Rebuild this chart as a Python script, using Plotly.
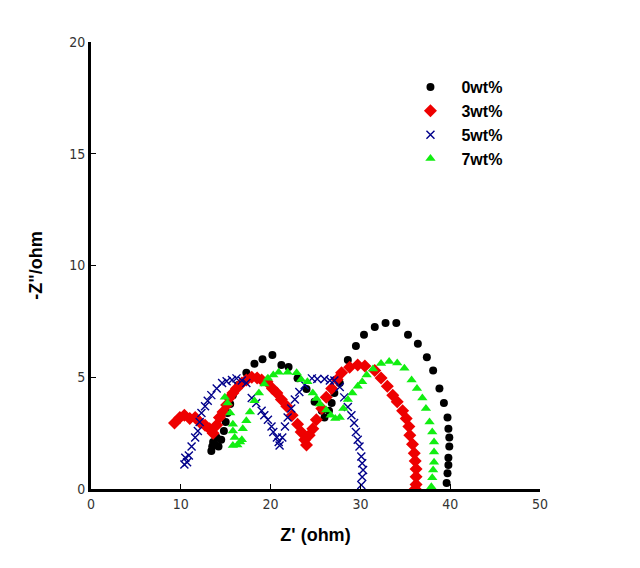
import plotly.graph_objects as go

# Nyquist data
x_0wt = [13.4, 13.5, 13.6, 13.8, 14.0, 14.2, 14.5, 14.8, 15.0, 15.2, 15.5, 15.8, 16.4, 17.3,
         18.2, 19.1, 20.2, 21.2, 22.0, 23.0, 24.0, 24.9, 25.7, 26.0, 26.5, 26.8, 27.1, 27.7,
         28.6, 29.5, 30.4, 31.6, 32.8, 34.0, 35.3, 36.4, 37.4, 38.1, 38.8, 39.3, 39.7, 39.8,
         39.9, 39.9, 39.8, 39.8, 39.7, 39.6]
y_0wt = [1.7, 1.9, 2.1, 2.0, 2.3, 1.9, 2.2, 2.6, 3.0, 3.4, 3.8, 4.2, 4.65, 5.2,
         5.6, 5.8, 6.0, 5.55, 5.46, 4.96, 4.47, 3.9, 3.5, 3.2, 3.5, 3.85, 4.3, 4.74,
         5.77, 6.4, 6.9, 7.25, 7.43, 7.43, 6.9, 6.5, 5.9, 5.3, 4.5, 3.85, 3.2, 2.7,
         2.3, 1.9, 1.4, 1.07, 0.7, 0.27]

x_3wt = [9.3, 9.9, 10.4, 11.0, 11.6, 12.1, 12.7, 13.2, 13.6, 14.0, 14.3, 14.7, 15.1, 15.4,
         15.8, 16.2, 16.8, 17.3, 17.9, 18.5, 19.0, 19.6, 20.2, 20.7, 21.2, 21.8, 22.4, 23.0,
         23.4, 23.8, 24.0, 24.3, 24.7, 25.1, 25.7, 26.2, 26.8, 27.4, 27.9, 28.8, 29.7, 30.5,
         31.6, 32.3, 33.0, 33.6, 34.1, 34.7, 35.1, 35.4, 35.5, 35.8, 36.0, 36.1, 36.2, 36.2,
         36.2, 36.1]
y_3wt = [2.95, 3.2, 3.3, 3.15, 3.2, 3.0, 2.85, 2.7, 2.5, 2.86, 3.2, 3.45, 3.76, 4.07,
         4.3, 4.5, 4.74, 4.88, 5.0, 4.97, 4.88, 4.8, 4.5, 4.3, 4.0, 3.7, 3.3, 2.9,
         2.55, 2.2, 1.97, 2.4, 2.7, 3.1, 3.6, 4.1, 4.5, 4.9, 5.2, 5.45, 5.55, 5.5,
         5.3, 4.97, 4.6, 4.2, 3.9, 3.5, 3.15, 2.8, 2.4, 2.0, 1.6, 1.25, 0.9, 0.55,
         0.2, 0.0]

x_5wt = [10.4, 10.5, 10.7, 10.9, 11.2, 11.6, 11.9, 12.1, 12.3, 12.7, 13.0, 13.4, 14.0, 14.6,
         15.1, 15.7, 16.2, 16.8, 17.3, 17.9, 18.4, 19.0, 19.3, 19.7, 20.1, 20.3, 20.7, 20.9,
         21.0, 21.3, 21.6, 21.9, 22.3, 22.7, 23.2, 23.8, 24.6, 25.2, 26.0, 26.6, 27.1, 27.7,
         28.2, 28.6, 29.0, 29.3, 29.5, 29.7, 29.9, 30.1, 30.2, 30.3, 30.2, 30.1]
y_5wt = [1.1, 1.4, 1.2, 1.5, 1.9, 2.3, 2.6, 3.0, 3.4, 3.7, 3.95, 4.2, 4.5, 4.74,
         4.82, 4.88, 4.95, 4.85, 4.74, 4.07, 3.85, 3.5, 3.3, 3.1, 2.8, 2.55, 2.3, 2.1,
         1.95, 2.3, 2.8, 3.2, 3.6, 4.0, 4.34, 4.65, 4.95, 4.92, 4.92, 4.85, 4.85, 4.56,
         4.1, 3.67, 3.3, 2.95, 2.55, 2.2, 1.9, 1.45, 1.15, 0.85, 0.54, 0.18]

x_7wt = [14.9, 15.2, 15.5, 15.8, 15.8, 16.0, 15.8, 16.3, 16.6, 16.8, 16.9, 17.3, 17.7, 18.2,
         18.7, 19.3, 19.7, 20.3, 20.9, 21.9, 22.9, 23.4, 24.1, 24.7, 25.1, 25.5, 26.2, 26.7,
         27.2, 27.7, 28.1, 28.6, 29.1, 29.7, 30.2, 30.7, 31.4, 32.3, 33.2, 34.1, 34.9, 35.7,
         36.3, 36.9, 37.3, 37.7, 38.0, 38.2, 38.2, 38.2, 38.1, 38.0, 37.9]
y_7wt = [4.1, 3.85, 3.4, 2.9, 2.6, 2.3, 1.95, 1.97, 2.1, 2.2, 2.7, 3.05, 3.45, 3.95,
         4.3, 4.7, 4.95, 5.1, 5.22, 5.22, 5.2, 4.9, 4.8, 4.3, 4.05, 3.8, 3.53, 3.3,
         3.15, 3.2, 3.6, 4.0, 4.3, 4.6, 4.8, 5.1, 5.37, 5.62, 5.7, 5.64, 5.4, 4.88,
         4.5, 4.07, 3.6, 3.0, 2.55, 2.1, 1.65, 1.2, 0.85, 0.5, 0.1]

fig = go.Figure()

fig.add_trace(go.Scatter(
    x=x_0wt, y=y_0wt, mode="markers", name="<b>0wt%</b>",
    marker=dict(symbol="circle", size=8, color="#000000")
))
fig.add_trace(go.Scatter(
    x=x_3wt, y=y_3wt, mode="markers", name="<b>3wt%</b>",
    marker=dict(symbol="diamond", size=10, color="#EE0000")
))
fig.add_trace(go.Scatter(
    x=x_5wt, y=y_5wt, mode="markers", name="<b>5wt%</b>",
    marker=dict(symbol="x-thin", size=8, color="#00008B",
                line=dict(width=1.4, color="#00008B"))
))
fig.add_trace(go.Scatter(
    x=x_7wt, y=y_7wt, mode="markers", name="<b>7wt%</b>",
    marker=dict(symbol="triangle-up", size=9, color="#11EE11")
))

tick_font = dict(family="Liberation Sans Narrow, DejaVu Sans Condensed, sans-serif",
                 size=14, color="#333333")

# page body keeps an 8px margin, so the plot margins are shifted by it
fig.update_layout(
    width=640, height=568,
    plot_bgcolor="#FFFFFF",
    paper_bgcolor="#FFFFFF",
    margin=dict(l=83, r=108, t=34, b=87),
    font=dict(family="Liberation Sans, Arial, sans-serif", color="#000000"),
    xaxis=dict(
        range=[0, 50], dtick=10, showgrid=False, zeroline=False,
        showline=True, linecolor="#000000", linewidth=3,
        ticks="inside", ticklen=5, tickwidth=1, tickcolor="#000000",
        tickfont=tick_font,
        title=dict(text="<b>Z' (ohm)</b>", font=dict(size=18), standoff=18)
    ),
    yaxis=dict(
        range=[0, 20], dtick=5, showgrid=False, zeroline=False,
        showline=True, linecolor="#000000", linewidth=3,
        ticks="inside", ticklen=5, tickwidth=1, tickcolor="#000000",
        tickfont=tick_font,
        title=dict(text='<b>-Z"/ohm</b>', font=dict(size=18), standoff=22)
    ),
    legend=dict(
        x=0.687, y=0.937, xanchor="left", yanchor="top",
        bgcolor="rgba(0,0,0,0)",
        font=dict(size=16, family="Liberation Sans, Arial, sans-serif", color="#000000"),
        itemwidth=52
    ),
    showlegend=True
)

fig.write_html("out.html")
